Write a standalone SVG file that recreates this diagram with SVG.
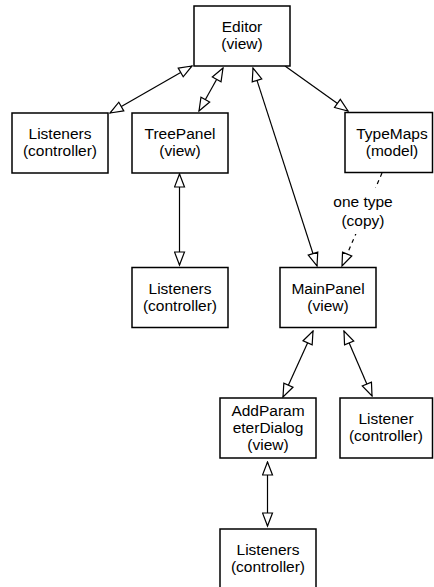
<svg xmlns="http://www.w3.org/2000/svg" width="434" height="587" viewBox="0 0 434 587">
<style>
.box{fill:#fff;stroke:#000;stroke-width:1.5}
.t{font-family:"Liberation Sans",Arial,Helvetica,sans-serif;font-size:15.5px;fill:#000;text-anchor:middle}
.c{fill:none;stroke:#000;stroke-width:1.2}
.bi{marker-start:url(#ah);marker-end:url(#ah)}
.one{marker-end:url(#ah)}
.dash{stroke-dasharray:4,4}
</style>
<defs>
<marker id="ah" markerUnits="userSpaceOnUse" markerWidth="16" markerHeight="12" refX="13" refY="5" orient="auto-start-reverse" viewBox="-1 -1 15 12">
<path d="M0,0 L13,5 L0,10 Z" fill="#fff" stroke="#000" stroke-width="1.2"/>
</marker>
</defs>
<rect width="434" height="587" fill="#fff"/>
<g id="connectors">
<path class="c bi" d="M110,113 L192,66"/>
<path class="c bi" d="M199,111 L223,68"/>
<path class="c bi" d="M253,68 L317,266"/>
<path class="c one" d="M285,66 L348,111"/>
<path class="c bi" d="M179.5,174 L179.5,265"/>
<path class="c dash one" d="M382,173 L342,266"/>
<path class="c bi" d="M313,331 L283,397"/>
<path class="c bi" d="M344,331 L372,396"/>
<path class="c bi" d="M267.5,462 L267.5,526"/>
<g id="label-copy">
<rect x="332" y="188" width="62" height="46" fill="#fff"/>
<text class="t" x="363" y="207">one type</text>
<text class="t" x="363" y="226">(copy)</text>
</g>
</g>
<g id="editor"><rect class="box" x="194" y="6" width="96" height="60"/><text class="t" x="242" y="32">Editor</text><text class="t" x="242" y="49">(view)</text></g>
<g id="listeners1"><rect class="box" x="12" y="113" width="96" height="60"/><text class="t" x="60" y="139">Listeners</text><text class="t" x="60" y="156">(controller)</text></g>
<g id="treepanel"><rect class="box" x="132" y="113" width="96" height="60"/><text class="t" x="180" y="139">TreePanel</text><text class="t" x="180" y="156">(view)</text></g>
<g id="typemaps"><rect class="box" x="345" y="112.5" width="87.5" height="60"/><text class="t" x="392" y="138.5">TypeMaps</text><text class="t" x="392" y="155.5">(model)</text></g>
<g id="listeners2"><rect class="box" x="132" y="267.5" width="96" height="60"/><text class="t" x="180" y="293.5">Listeners</text><text class="t" x="180" y="310.5">(controller)</text></g>
<g id="mainpanel"><rect class="box" x="280" y="267.5" width="96" height="60"/><text class="t" x="328" y="293.5">MainPanel</text><text class="t" x="328" y="310.5">(view)</text></g>
<g id="addparam"><rect class="box" x="220" y="398" width="96" height="60"/><text class="t" x="268" y="415.5">AddParam</text><text class="t" x="268" y="432.5">eterDialog</text><text class="t" x="268" y="449.5">(view)</text></g>
<g id="listener"><rect class="box" x="340" y="398" width="92.5" height="60"/><text class="t" x="386" y="424">Listener</text><text class="t" x="386" y="441">(controller)</text></g>
<g id="listeners3"><rect class="box" x="220" y="529" width="96" height="60"/><text class="t" x="268" y="555">Listeners</text><text class="t" x="268" y="572">(controller)</text></g>
</svg>
